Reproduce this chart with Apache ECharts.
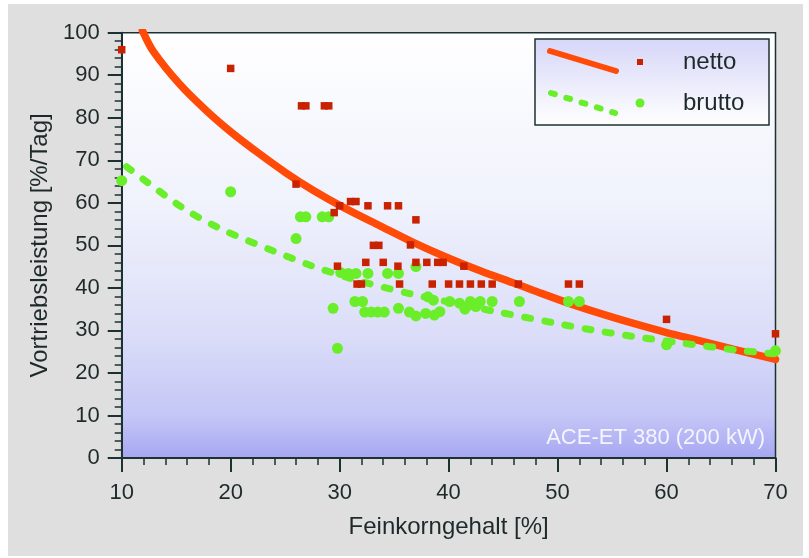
<!DOCTYPE html>
<html><head><meta charset="utf-8">
<script src="https://cdn.jsdelivr.net/npm/echarts@6/dist/echarts.min.js"></script>
<style>html,body{margin:0;padding:0;background:#fff}#c{width:809px;height:558px}</style>
</head><body><div id="c"></div>
<script>
const xTicks = [10, 20, 30, 40, 50, 60, 70];
const yTicks = [0, 10, 20, 30, 40, 50, 60, 70, 80, 90, 100];
const xTitle = 'Feinkorngehalt [%]';
const yTitle = 'Vortriebsleistung [%/Tag]';
const seriesNames = ['netto', 'brutto'];
const noteText = 'ACE-ET 380 (200 kW)';

// measured points (x = Feinkorngehalt, y = Vortriebsleistung)
const nettoPoints = [
  [10,96],[20,91.6],[26.5,82.8],[26.9,82.8],[28.6,82.8],[29.0,82.8],[26,64.4],
  [29.5,57.7],[30,59.3],[31,60.3],[31.5,60.3],[32.6,59.3],[34.4,59.3],[35.4,59.3],
  [37,56],[33.1,50],[33.6,50],[36.5,50.1],[29.8,45.1],[32.4,46],[34,46],[35.35,45.1],
  [37,46],[38,46],[39,46],[39.5,46],[41.4,45.1],[31.6,40.9],[32,40.9],[35.5,40.9],
  [38.5,40.9],[40,40.9],[41,40.9],[42,40.9],[43,40.9],[44,40.9],[46.4,40.9],
  [51,40.9],[52,40.9],[60,32.6],[70,29.2]
];
const bruttoPoints = [
  [10,65.2],[20,62.6],[26.4,56.7],[26.9,56.7],[28.4,56.7],[29,56.7],[26,51.6],[37,45],
  [30.1,43.6],[30.8,43.4],[31.5,43.4],[32.6,43.4],[34.4,43.4],[35.4,43.4],
  [31.4,36.8],[32.1,36.8],[29.4,35.2],[29.8,25.8],
  [32.3,34.3],[32.9,34.3],[33.5,34.3],[34.1,34.3],[35.4,35.2],[36.4,34.3],[37,33.4],
  [38.1,37.9],[38.6,37.1],[40.1,36.8],[41,36.4],[42,36.8],[42.9,36.8],[44,36.8],
  [41.5,35],[42.5,35.6],[37.9,34],[38.7,33.6],[39.2,34.4],
  [46.5,36.8],[51,36.8],[52,36.8],[60,26.6],[70,25.2]
];
// trend curves
const nettoCurve = [
  [11.9,100.5],[12.9,95.6],[15.35,87.8],[17.8,81.6],[20.2,76.3],[22.7,71.4],[25.1,67],
  [27.6,62.9],[30.3,59],[33.7,54.6],[36.75,50.7],[39.8,47.2],[42.9,44],[45.9,41.2],
  [47.8,39.4],[50.8,36.6],[53.9,34],[56.9,31.7],[60,29.5],[63,27.6],[66.1,25.6],[70,23.2]
];
const bruttoCurve = [
  [10.45,68.5],[13.2,63.2],[16.1,58],[19.5,53.4],[23.9,48.7],[27,45.6],[28.2,44.5],
  [32,41.5],[36.5,38.6],[40.5,36.4],[44.4,34.4],[49.6,31.8],[53.2,30.1],[56.9,28.6],
  [61.2,27.1],[66.7,25.3],[70,24.5]
];

const ink = '#1c3232';
const txt = '#1e2a2a';
const redLine = '#ff4a08';
const redPt = '#c92200';
const green = '#6aee2a';
const font = '"Liberation Sans", Arial, sans-serif';

const chart = echarts.init(document.getElementById('c'), null, {renderer: 'canvas'});
const axisCommon = {
  axisLine: {show: true, lineStyle: {color: ink, width: 2}},
  axisTick: {show: true, inside: false, length: 14, lineStyle: {color: ink, width: 2}},
  minorTick: {show: true, splitNumber: 5, length: 7, lineStyle: {color: ink, width: 1.5}},
  splitLine: {show: false},
  axisLabel: {color: txt, fontSize: 22, fontFamily: font},
  nameTextStyle: {color: txt, fontSize: 24, fontFamily: font},
  nameLocation: 'middle'
};
chart.setOption({
  animation: false,
  backgroundColor: '#ffffff',
  grid: {
    left: 121.7, right: 33.5, top: 32.7, bottom: 100,
    show: true, borderColor: ink, borderWidth: 1.5,
    backgroundColor: {type: 'linear', x: 0, y: 0, x2: 0, y2: 1, colorStops: [
      {offset: 0, color: '#ffffff'}, {offset: 0.4, color: '#f0f2fc'},
      {offset: 0.7, color: '#dcdef9'}, {offset: 0.9, color: '#c4c6f6'},
      {offset: 1, color: '#a6a6f2'}]}
  },
  xAxis: Object.assign({}, axisCommon, {
    type: 'value', min: xTicks[0], max: xTicks[xTicks.length - 1], interval: xTicks[1] - xTicks[0],
    name: xTitle, nameGap: 57,
    axisLabel: Object.assign({}, axisCommon.axisLabel, {margin: 24})
  }),
  yAxis: Object.assign({}, axisCommon, {
    type: 'value', min: yTicks[0], max: yTicks[yTicks.length - 1], interval: yTicks[1] - yTicks[0],
    name: yTitle, nameGap: 69,
    axisLabel: Object.assign({}, axisCommon.axisLabel, {margin: 22})
  }),
  graphic: [
    {type: 'rect', z: -10, silent: true, shape: {x: 8, y: 4, width: 795, height: 552}, style: {fill: '#dfdfdf'}},
    {type: 'text', z: 50, silent: true, style: {text: noteText, x: 765, y: 449, align: 'right', verticalAlign: 'bottom', font: '22px ' + font, fill: 'rgba(250,250,255,0.92)'}},
    {type: 'rect', z: 50, silent: true, shape: {x: 535, y: 39, width: 234, height: 86},
      style: {stroke: ink, lineWidth: 1.5, fill: {type: 'linear', x: 0, y: 0, x2: 0, y2: 1, colorStops: [
        {offset: 0, color: '#d6d6f8'}, {offset: 1, color: '#ffffff'}]}}},
    {type: 'line', z: 51, silent: true, shape: {x1: 550, y1: 51, x2: 616, y2: 71}, style: {stroke: redLine, lineWidth: 6, lineCap: 'round'}},
    {type: 'rect', z: 51, silent: true, shape: {x: 637, y: 59, width: 6, height: 6}, style: {fill: redPt}},
    {type: 'text', z: 51, silent: true, style: {text: seriesNames[0], x: 683, y: 62, verticalAlign: 'middle', font: '24px ' + font, fill: txt}},
    {type: 'line', z: 51, silent: true, shape: {x1: 551, y1: 93, x2: 615, y2: 113}, style: {stroke: green, lineWidth: 6, lineCap: 'round', lineDash: [4, 12]}},
    {type: 'circle', z: 51, silent: true, shape: {cx: 640, cy: 103, r: 4.5}, style: {fill: green}},
    {type: 'text', z: 51, silent: true, style: {text: seriesNames[1], x: 683, y: 103, verticalAlign: 'middle', font: '24px ' + font, fill: txt}}
  ],
  series: [
    {name: seriesNames[0] + ' Trend', type: 'line', data: nettoCurve, smooth: 0.3, showSymbol: false, z: 2,
      lineStyle: {color: redLine, width: 7.5, cap: 'round'}},
    {name: seriesNames[1] + ' Trend', type: 'line', data: bruttoCurve, smooth: 0.3, showSymbol: false, z: 3,
      lineStyle: {color: green, width: 7, type: [6, 14.5], cap: 'round'}},
    {name: seriesNames[1], type: 'scatter', data: bruttoPoints, symbol: 'circle', symbolSize: 11, z: 4,
      itemStyle: {color: green, opacity: 1}},
    {name: seriesNames[0], type: 'scatter', data: nettoPoints, symbol: 'rect', symbolSize: 7.5, z: 5,
      itemStyle: {color: redPt, opacity: 1}}
  ]
});
</script></body></html>
